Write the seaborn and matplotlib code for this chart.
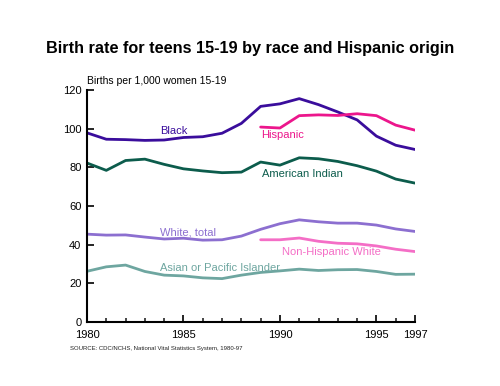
import numpy as np
import pandas as pd
import matplotlib
matplotlib.use("Agg")
import matplotlib.pyplot as plt
import seaborn as sns
from matplotlib.ticker import MultipleLocator

# Births per 1,000 women aged 15-19
years_all = list(range(1980, 1998))
years_hisp = list(range(1989, 1998))

black = [97.8, 94.5, 94.3, 93.9, 94.1, 95.4, 95.8, 97.6, 102.7, 111.5, 112.8, 115.5, 112.4, 108.6, 104.5, 96.1, 91.4, 89.2]
american_indian = [82.2, 78.4, 83.5, 84.2, 81.5, 79.2, 78.1, 77.2, 77.5, 82.7, 81.1, 84.9, 84.4, 83.0, 80.8, 78.0, 73.9, 71.8]
white_total = [45.4, 44.9, 45.0, 43.9, 42.9, 43.3, 42.3, 42.5, 44.4, 47.9, 50.8, 52.8, 51.8, 51.1, 51.1, 50.1, 48.1, 46.8]
asian_pi = [26.2, 28.5, 29.4, 26.1, 24.2, 23.8, 22.8, 22.4, 24.2, 25.6, 26.4, 27.3, 26.6, 27.0, 27.1, 26.1, 24.6, 24.7]
hispanic = [100.8, 100.3, 106.7, 107.1, 106.8, 107.7, 106.7, 101.8, 99.2]
non_hisp_white = [42.5, 42.5, 43.4, 41.7, 40.7, 40.4, 39.3, 37.6, 36.4]

series_names = ["Black", "Hispanic", "American Indian", "White, total",
                "Non-Hispanic White", "Asian or Pacific Islander"]
colors = {
    "Black": "#3a0d9c",
    "Hispanic": "#ec168c",
    "American Indian": "#0c5c4c",
    "White, total": "#8c6fd0",
    "Non-Hispanic White": "#f46ec6",
    "Asian or Pacific Islander": "#6ea6a0",
}

frames = []
for name, yrs, vals in [("Black", years_all, black),
                        ("Hispanic", years_hisp, hispanic),
                        ("American Indian", years_all, american_indian),
                        ("White, total", years_all, white_total),
                        ("Non-Hispanic White", years_hisp, non_hisp_white),
                        ("Asian or Pacific Islander", years_all, asian_pi)]:
    frames.append(pd.DataFrame({"year": yrs, "rate": vals, "group": name}))
df = pd.concat(frames, ignore_index=True)

sns.set_style("white")
plt.rcParams['font.family'] = ['Liberation Sans', 'DejaVu Sans']
plt.rcParams['text.color'] = 'black'

fig = plt.figure(figsize=(5, 3.86), dpi=100)
ax = fig.add_axes([0.174, 0.166, 0.656, 0.601])

sns.lineplot(data=df, x="year", y="rate", hue="group", hue_order=series_names,
             palette=colors, linewidth=2, legend=False, ax=ax)

# labels next to each line
label_pos = {
    "Black": (1983.8, 98.8),
    "Hispanic": (1989.05, 96.5),
    "American Indian": (1989.05, 76.3),
    "White, total": (1983.8, 46.0),
    "Non-Hispanic White": (1990.1, 36.0),
    "Asian or Pacific Islander": (1983.8, 28.0),
}
for name, (x, y) in label_pos.items():
    ax.text(x, y, name, color=colors[name], fontsize=8, va="center", ha="left")

ax.set_xlim(1980, 1997)
ax.set_ylim(0, 120)
ax.set_xticks([1980, 1985, 1990, 1995, 1997])
ax.xaxis.set_minor_locator(MultipleLocator(1))
ax.set_yticks([0, 20, 40, 60, 80, 100, 120])
ax.tick_params(axis="both", which="major", direction="in", length=5, width=1.2,
               labelsize=8, colors="black", labelcolor="black")
ax.tick_params(axis="x", which="major", pad=6, bottom=True)
ax.tick_params(axis="y", which="major", pad=4, left=True)
ax.tick_params(axis="x", which="minor", direction="in", length=3, width=1.2,
               bottom=True)
ax.set_xlabel("")
ax.set_ylabel("")
for side in ["top", "right"]:
    ax.spines[side].set_visible(False)
for side in ["left", "bottom"]:
    ax.spines[side].set_color("black")
    ax.spines[side].set_linewidth(1.5)

ax.text(0, 1.015, "Births per 1,000 women 15-19", transform=ax.transAxes,
        fontsize=7.5, ha="left", va="bottom", color="black")

fig.text(0.5, 0.875, "Birth rate for teens 15-19 by race and Hispanic origin",
         ha="center", va="center", fontsize=11.7, fontweight="bold", color="black")
fig.text(0.14, 0.096, "SOURCE: CDC/NCHS, National Vital Statistics System, 1980-97",
         ha="left", va="center", fontsize=4.3, color="#222222")

fig.savefig("out.png", dpi=100)
